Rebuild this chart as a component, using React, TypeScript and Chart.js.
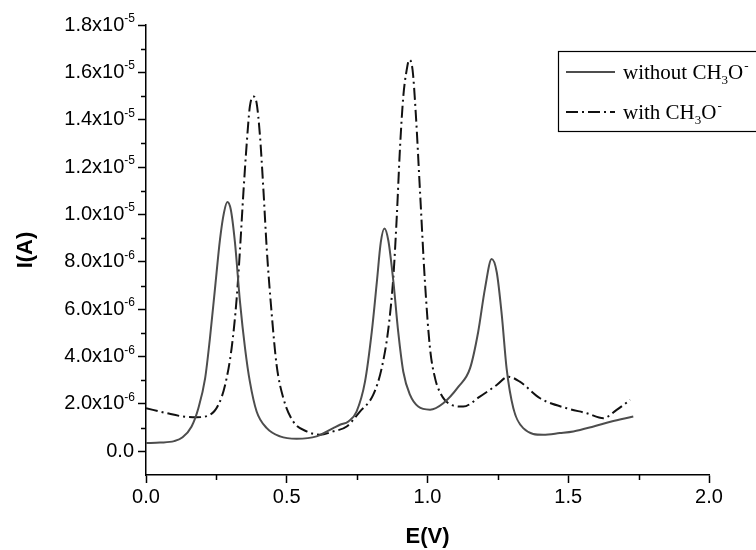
import React, { useEffect, useRef } from "react";
import { Chart, registerables } from "chart.js";

Chart.register(...registerables);

// ---- data (current in units of 1e-6 A) ----
const withoutE = [0.0, 0.05, 0.10, 0.13, 0.162, 0.186, 0.21, 0.227, 0.245, 0.263, 0.277, 0.289, 0.301, 0.316, 0.334, 0.352, 0.369, 0.393, 0.429, 0.476, 0.535, 0.606, 0.665, 0.689, 0.719, 0.748, 0.778, 0.802, 0.82, 0.834, 0.847, 0.861, 0.879, 0.896, 0.914, 0.938, 0.967, 1.009, 1.056, 1.11, 1.151, 1.18, 1.204, 1.228, 1.246, 1.264, 1.281, 1.305, 1.34, 1.411, 1.47, 1.518, 1.59, 1.65, 1.731];
const withoutI = [0.35, 0.37, 0.43, 0.59, 1.05, 1.82, 3.08, 4.76, 6.86, 8.96, 10.08, 10.53, 10.22, 8.82, 6.30, 4.34, 2.94, 1.68, 0.98, 0.63, 0.53, 0.63, 0.98, 1.12, 1.26, 1.68, 2.94, 5.04, 7.14, 8.82, 9.41, 8.89, 7.14, 5.04, 3.36, 2.38, 1.89, 1.76, 2.03, 2.73, 3.5, 5.04, 6.86, 8.12, 7.56, 5.74, 3.5, 1.82, 0.98, 0.70, 0.77, 0.84, 1.05, 1.25, 1.47];

const withE = [0.0, 0.074, 0.132, 0.18, 0.227, 0.257, 0.281, 0.304, 0.322, 0.334, 0.346, 0.358, 0.369, 0.381, 0.393, 0.405, 0.417, 0.429, 0.447, 0.464, 0.488, 0.523, 0.571, 0.618, 0.665, 0.713, 0.76, 0.807, 0.837, 0.861, 0.879, 0.891, 0.902, 0.914, 0.926, 0.935, 0.947, 0.959, 0.973, 0.991, 1.009, 1.027, 1.044, 1.074, 1.127, 1.186, 1.246, 1.287, 1.328, 1.4, 1.494, 1.566, 1.625, 1.672, 1.72];
const withI = [1.82, 1.61, 1.47, 1.44, 1.54, 1.96, 2.80, 4.34, 6.44, 8.54, 10.92, 13.03, 14.56, 14.98, 14.7, 13.3, 11.06, 8.54, 5.74, 3.64, 2.24, 1.26, 0.84, 0.70, 0.84, 1.05, 1.68, 2.38, 3.5, 5.18, 7.42, 9.94, 12.74, 14.98, 16.1, 16.53, 16.1, 14.14, 11.06, 7.14, 4.34, 3.08, 2.5, 2.03, 1.89, 2.31, 2.80, 3.15, 2.94, 2.24, 1.82, 1.61, 1.40, 1.75, 2.17];

const xTickValues = [0, 0.5, 1.0, 1.5, 2.0];
const xTickLabels = ["0.0", "0.5", "1.0", "1.5", "2.0"];
const xMinorTicks = [0.25, 0.75, 1.25, 1.75];

const yTickValues = [0, 2, 4, 6, 8, 10, 12, 14, 16, 18];
const yTickMantissas = ["0.0", "2.0x10", "4.0x10", "6.0x10", "8.0x10", "1.0x10", "1.2x10", "1.4x10", "1.6x10", "1.8x10"];
const yTickExponents = ["", "-6", "-6", "-6", "-6", "-5", "-5", "-5", "-5", "-5"];
const yMinorTicks = [1, 3, 5, 7, 9, 11, 13, 15, 17];

const seriesNames = ["without", "with"];
const formulaMain = "CH";
const formulaSub = "3";
const formulaMid = "O";
const formulaSup = "-";

const xTitle = "E(V)";
const yTitle = "I(A)";

const SANS = "'Liberation Sans', Arial, sans-serif";
const SERIF = "'Liberation Serif', 'Times New Roman', serif";
const SOLID_COLOR = "#4d4d4d";
const DASH_COLOR = "#111111";
const DASH = [12, 4, 2, 4];

const toPoints = (xs: number[], ys: number[]) => xs.map((x, i) => ({ x, y: ys[i] }));

const decorPlugin = {
  id: "decor",
  afterDraw(chart: any) {
    const { ctx, chartArea, scales } = chart;
    const xs = scales.x;
    const ys = scales.y;
    ctx.save();
    // minor ticks
    ctx.strokeStyle = "#000";
    ctx.lineWidth = 1.5;
    ctx.beginPath();
    yMinorTicks.forEach((v) => {
      const py = Math.round(ys.getPixelForValue(v)) + 0.5;
      ctx.moveTo(chartArea.left - 5, py);
      ctx.lineTo(chartArea.left, py);
    });
    xMinorTicks.forEach((v) => {
      const px = Math.round(xs.getPixelForValue(v)) + 0.5;
      ctx.moveTo(px, chartArea.bottom);
      ctx.lineTo(px, chartArea.bottom + 5);
    });
    ctx.stroke();

    // y tick labels with superscript exponents
    ctx.fillStyle = "#000";
    const right = chartArea.left - 11;
    yTickValues.forEach((v, i) => {
      const py = ys.getPixelForValue(v);
      const exp = yTickExponents[i];
      let mx = right;
      if (exp) {
        ctx.font = `12px ${SANS}`;
        ctx.textAlign = "right";
        ctx.textBaseline = "alphabetic";
        ctx.fillText(exp, right, py - 3);
        mx = right - ctx.measureText(exp).width;
      } else {
        mx = right - 1;
      }
      ctx.font = `20px ${SANS}`;
      ctx.textAlign = "right";
      ctx.textBaseline = "middle";
      ctx.fillText(yTickMantissas[i], mx, py);
    });

    // legend
    const bx = chartArea.right - 151;
    const by = chartArea.top + 26;
    const bh = 80;
    ctx.lineWidth = 1.2;
    ctx.strokeStyle = "#000";
    ctx.strokeRect(bx + 0.5, by + 0.5, 260, bh);
    const rows = [
      { name: seriesNames[0], color: SOLID_COLOR, dash: [] as number[] },
      { name: seriesNames[1], color: DASH_COLOR, dash: DASH },
    ];
    rows.forEach((r, i) => {
      const cy = by + 21 + i * 40;
      ctx.save();
      ctx.strokeStyle = r.color;
      ctx.lineWidth = 2;
      ctx.setLineDash(r.dash);
      ctx.beginPath();
      ctx.moveTo(bx + 8, cy);
      ctx.lineTo(bx + 57, cy);
      ctx.stroke();
      ctx.restore();
      let tx = bx + 65;
      const base = cy + 7;
      ctx.textAlign = "left";
      ctx.textBaseline = "alphabetic";
      ctx.fillStyle = "#000";
      ctx.font = `21px ${SERIF}`;
      const t1 = r.name + " " + formulaMain;
      ctx.fillText(t1, tx, base);
      tx += ctx.measureText(t1).width;
      ctx.font = `13px ${SERIF}`;
      ctx.fillText(formulaSub, tx, base + 5);
      tx += ctx.measureText(formulaSub).width;
      ctx.font = `21px ${SERIF}`;
      ctx.fillText(formulaMid, tx, base);
      tx += ctx.measureText(formulaMid).width;
      ctx.font = `13px ${SERIF}`;
      ctx.fillText(formulaSup, tx + 1, base - 9);
    });
    ctx.restore();
  },
};

export default function App() {
  const ref = useRef<HTMLCanvasElement | null>(null);
  useEffect(() => {
    if (!ref.current) return;
    const chart = new Chart(ref.current, {
      type: "line",
      data: {
        datasets: [
          {
            label: seriesNames[0],
            data: toPoints(withoutE, withoutI),
            borderColor: SOLID_COLOR,
            borderWidth: 2,
            pointRadius: 0,
            cubicInterpolationMode: "monotone",
            fill: false,
          },
          {
            label: seriesNames[1],
            data: toPoints(withE, withI),
            borderColor: DASH_COLOR,
            borderWidth: 2,
            borderDash: DASH,
            pointRadius: 0,
            cubicInterpolationMode: "monotone",
            fill: false,
          },
        ],
      },
      options: {
        responsive: false,
        animation: false,
        layout: { padding: { left: 0, top: 25, right: 47, bottom: 0 } },
        plugins: { legend: { display: false }, tooltip: { enabled: false } },
        scales: {
          x: {
            type: "linear",
            min: 0,
            max: 2,
            afterBuildTicks: (s: any) => {
              s.ticks = xTickValues.map((v) => ({ value: v }));
            },
            ticks: {
              callback: (v: any) => xTickLabels[xTickValues.indexOf(Number(v))] ?? "",
              color: "#000",
              font: { size: 20, family: SANS },
              padding: 2,
              maxRotation: 0,
            },
            grid: { drawOnChartArea: false, drawTicks: true, tickLength: 8, tickColor: "#000", tickWidth: 1.5 },
            border: { display: true, color: "#000", width: 1.5 },
            title: {
              display: true,
              text: xTitle,
              color: "#000",
              font: { size: 22, weight: "bold", family: SANS },
              padding: { top: 12.6, bottom: 0 },
            },
          },
          y: {
            type: "linear",
            min: -1,
            max: 18,
            afterBuildTicks: (s: any) => {
              s.ticks = yTickValues.map((v) => ({ value: v }));
            },
            ticks: { display: false },
            grid: { drawOnChartArea: false, drawTicks: true, tickLength: 8, tickColor: "#000", tickWidth: 1.5 },
            border: { display: true, color: "#000", width: 1.5 },
            title: {
              display: true,
              text: yTitle,
              color: "#000",
              font: { size: 22, weight: "bold", family: SANS },
              padding: { top: 12.8, bottom: 98.8 },
            },
          },
        },
      },
      plugins: [decorPlugin],
    });
    return () => chart.destroy();
  }, []);
  return (
    <div style={{ position: "absolute", left: 0, top: 0, width: 756, height: 550, background: "#fff" }}>
      <canvas ref={ref} width={756} height={550} style={{ display: "block" }} />
    </div>
  );
}
